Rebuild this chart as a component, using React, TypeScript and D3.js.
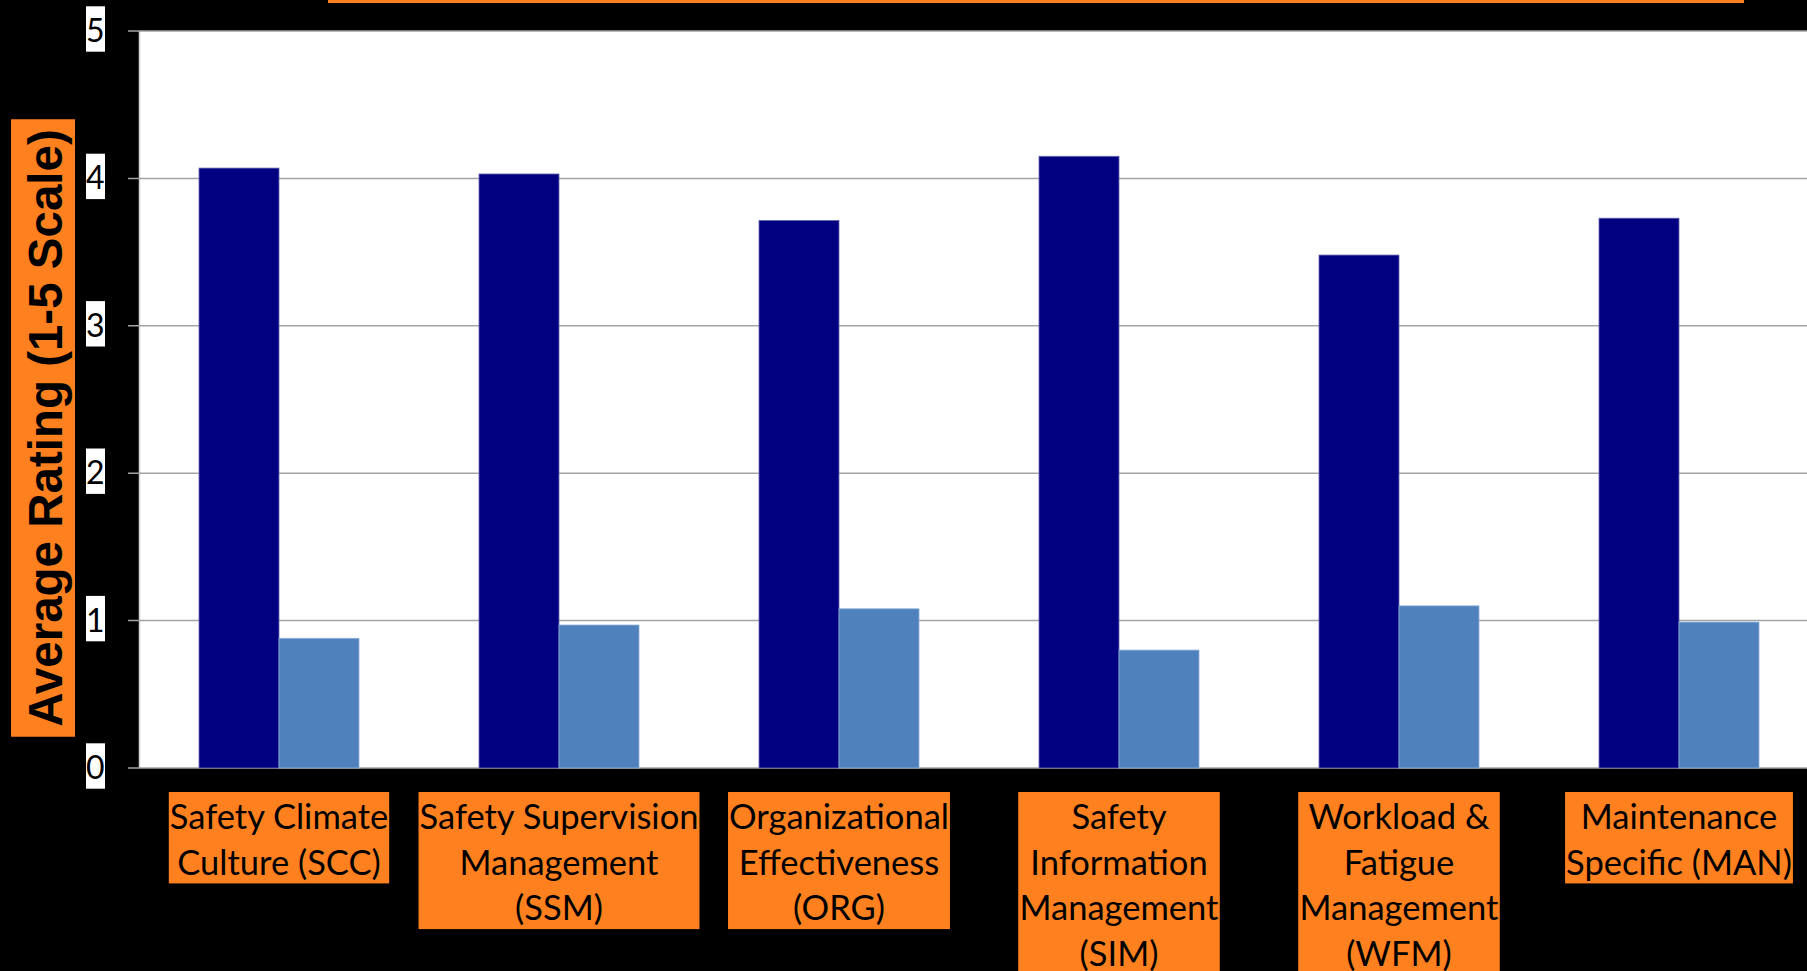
import React, { useEffect, useRef } from "react";
import * as d3 from "d3";

const categories = ["SCC", "SSM", "ORG", "SIM", "WFM", "MAN"];
const labelLines = [
  ["Safety Climate", "Culture (SCC)"],
  ["Safety Supervision", "Management", "(SSM)"],
  ["Organizational", "Effectiveness", "(ORG)"],
  ["Safety", "Information", "Management", "(SIM)"],
  ["Workload &", "Fatigue", "Management", "(WFM)"],
  ["Maintenance", "Specific (MAN)"],
];
const seriesKeys = ["dark", "light"];
const darkValues = [4.07, 4.03, 3.715, 4.15, 3.48, 3.73];
const lightValues = [0.88, 0.97, 1.08, 0.8, 1.1, 0.99];
const yTicks = [0, 1, 2, 3, 4, 5];
const yTitle = "Average Rating (1-5 Scale)";

const W = 1807;
const H = 971;
const ORANGE = "#FF801F";

export default function App() {
  const ref = useRef<SVGSVGElement>(null);

  useEffect(() => {
    document.body.style.margin = "0";
    const svg = d3.select(ref.current);
    svg.selectAll("*").remove();

    svg.append("rect").attr("x", 0).attr("y", 0).attr("width", W).attr("height", H).attr("fill", "#000");

    // top orange strip (bottom of cut-off title box)
    svg.append("rect").attr("x", 328).attr("y", 0).attr("width", 1416).attr("height", 3).attr("fill", ORANGE);

    const left = 139;
    const top = 31;
    const bottom = 768;
    const x = d3.scaleBand<string>().domain(categories).range([left, left + 6 * 280]).paddingInner(120 / 280).paddingOuter(60 / 280);
    const xs = d3.scaleBand<string>().domain(seriesKeys).range([0, x.bandwidth()]).padding(0);
    const y = d3.scaleLinear().domain([0, 5]).range([bottom, top]);

    // plot area
    svg.append("rect").attr("x", left).attr("y", top).attr("width", W - left).attr("height", bottom - top).attr("fill", "#fff");
    svg.append("line").attr("x1", left + 0.5).attr("x2", left + 0.5).attr("y1", top).attr("y2", bottom).attr("stroke", "#d4d4d4").attr("stroke-width", 1.5);

    // gridlines + ticks
    const g = svg.append("g");
    yTicks.forEach((t) => {
      g.append("line").attr("x1", 128).attr("x2", W).attr("y1", y(t)).attr("y2", y(t)).attr("stroke", "#a3a3a3").attr("stroke-width", 1.5);
    });

    // bars
    const data = categories.map((c, i) => ({ c, vals: [darkValues[i], lightValues[i]] }));
    const colors: Record<string, string> = { dark: "#000080", light: "#4F81BD" };
    const strokes: Record<string, string> = { dark: "#6a6ab0", light: "#8fb0d8" };
    data.forEach((d) => {
      seriesKeys.forEach((k, j) => {
        const v = d.vals[j];
        svg.append("rect")
          .attr("x", (x(d.c) as number) + (xs(k) as number))
          .attr("y", y(v))
          .attr("width", xs.bandwidth())
          .attr("height", y(0) - y(v))
          .attr("fill", colors[k])
          .attr("stroke", strokes[k])
          .attr("stroke-width", 0.8);
      });
    });

    // y tick labels with white boxes
    yTicks.forEach((t) => {
      const gy = y(t);
      const lg = svg.append("g");
      lg.append("rect").attr("fill", "#fff").attr("x", 86).attr("width", 19).attr("y", gy - 2 - 22.7).attr("height", 45.4);
      lg.append("text")
        .attr("x", 104.5)
        .attr("y", gy + 11)
        .attr("text-anchor", "end")
        .attr("font-family", "Lato, 'Noto Sans', sans-serif")
        .attr("font-size", 32)
        .attr("fill", "#000")
        .text(String(t));
    });

    // x labels with orange boxes
    const lineH = 45.7;
    const boxTop = 792;
    categories.forEach((c, i) => {
      const cx = (x(c) as number) + x.bandwidth() / 2;
      const lg = svg.append("g");
      const rect = lg.append("rect").attr("fill", ORANGE);
      const txt = lg.append("text")
        .attr("text-anchor", "middle")
        .attr("font-family", "Lato, 'Noto Sans', sans-serif")
        .attr("font-size", 34.5)
        .attr("fill", "#000");
      labelLines[i].forEach((ln, k) => {
        txt.append("tspan").attr("x", cx).attr("y", boxTop + 37 + k * lineH).text(ln);
      });
      const bb = (txt.node() as SVGTextElement).getBBox();
      const wBox = bb.width + 2;
      rect.attr("x", cx - wBox / 2).attr("width", wBox).attr("y", boxTop).attr("height", labelLines[i].length * lineH);
    });

    // y axis title
    const tg = svg.append("g").attr("transform", "translate(62,428) rotate(-90)");
    const trect = tg.append("rect").attr("fill", ORANGE);
    const tt = tg.append("text")
      .attr("x", 0)
      .attr("y", 0)
      .attr("text-anchor", "middle")
      .attr("font-family", "'Liberation Sans', Arial, sans-serif")
      .attr("font-weight", "bold")
      .attr("font-size", 47.5)
      .attr("fill", "#000")
      .text(yTitle);
    const tb = (tt.node() as SVGTextElement).getBBox();
    trect.attr("x", tb.x - 10).attr("width", tb.width + 20).attr("y", -51).attr("height", 64);
  }, []);

  return (
    <svg ref={ref} width={W} height={H} style={{ display: "block", position: "absolute", left: 0, top: 0 }} />
  );
}
